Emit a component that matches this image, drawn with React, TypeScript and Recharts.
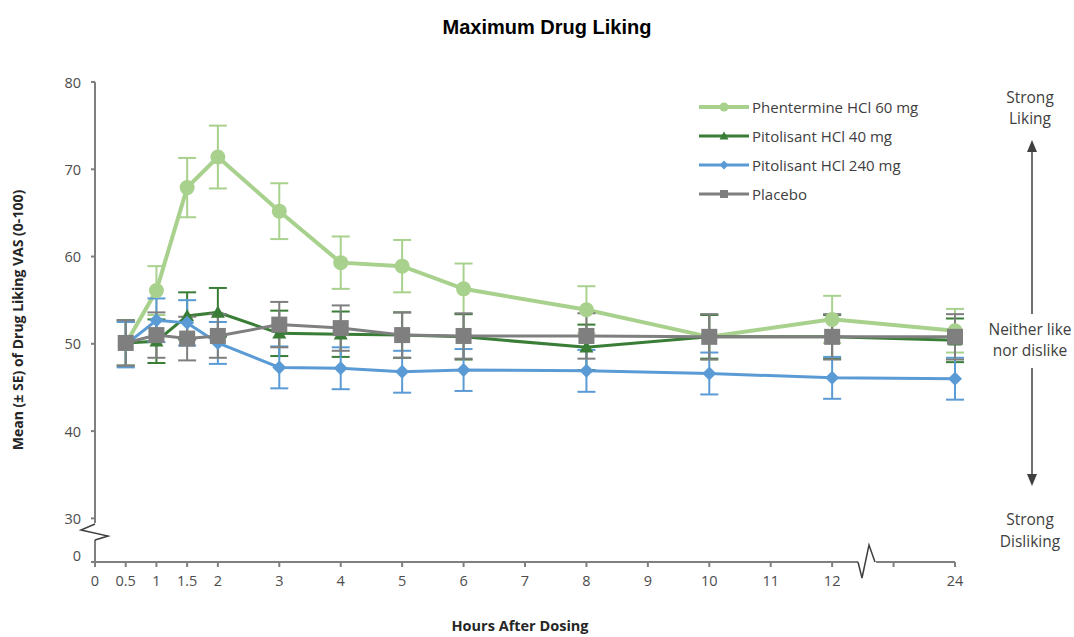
import React from "react";
import { LineChart, Line, XAxis, YAxis, ErrorBar } from "recharts";

// hours after dosing; 24 h sits past the axis break
const hours = [0.5, 1, 1.5, 2, 3, 4, 5, 6, 8, 10, 12, 24];

const phentermine = [50.0, 56.1, 67.9, 71.4, 65.2, 59.3, 58.9, 56.3, 53.9, 50.8, 52.8, 51.5];
const phentermineSE = [2.5, 2.8, 3.4, 3.6, 3.2, 3.0, 3.0, 2.9, 2.7, 2.6, 2.7, 2.5];
const pit40 = [50.1, 50.3, 53.2, 53.6, 51.2, 51.1, 51.0, 50.8, 49.6, 50.8, 50.8, 50.4];
const pit40SE = [2.6, 2.5, 2.7, 2.8, 2.6, 2.6, 2.6, 2.6, 2.6, 2.5, 2.5, 2.5];
const pit240 = [49.9, 52.7, 52.4, 50.1, 47.3, 47.2, 46.8, 47.0, 46.9, 46.6, 46.1, 46.0];
const pit240SE = [2.6, 2.5, 2.6, 2.4, 2.4, 2.4, 2.4, 2.4, 2.4, 2.4, 2.4, 2.4];
const placebo = [50.1, 51.0, 50.6, 50.9, 52.2, 51.8, 51.0, 50.9, 50.9, 50.8, 50.8, 50.8];
const placeboSE = [2.6, 2.6, 2.5, 2.5, 2.6, 2.6, 2.6, 2.6, 2.6, 2.6, 2.6, 2.6];

const xTicks = [0, 0.5, 1, 1.5, 2, 3, 4, 5, 6, 7, 8, 9, 10, 11, 12, 13, 14];
const xTickLabels = ["0", "0.5", "1", "1.5", "2", "3", "4", "5", "6", "7", "8", "9", "10", "11", "12", "", "24"];
const yTicks = [25, 30, 40, 50, 60, 70, 80];
const yTickLabels = ["0", "30", "40", "50", "60", "70", "80"];

const series = [
  { key: "phentermine", name: "Phentermine HCl 60 mg", color: "#A9D18E", width: 4, shape: "circle" },
  { key: "pit40", name: "Pitolisant HCl 40 mg", color: "#3A7D36", width: 3, shape: "triangle" },
  { key: "pit240", name: "Pitolisant HCl 240 mg", color: "#5B9BD5", width: 3, shape: "diamond" },
  { key: "placebo", name: "Placebo", color: "#7F7F7F", width: 3, shape: "square" },
];

const data = hours.map((h, i) => ({
  pos: h > 12 ? 14 : h,
  phentermine: phentermine[i],
  phentermineSE: phentermineSE[i],
  pit40: pit40[i],
  pit40SE: pit40SE[i],
  pit240: pit240[i],
  pit240SE: pit240SE[i],
  placebo: placebo[i],
  placeboSE: placeboSE[i],
}));

const FONT = "'Open Sans', 'Liberation Sans', sans-serif";

function marker(shape: string, color: string, cx: number, cy: number, s: number, key?: any) {
  switch (shape) {
    case "circle":
      return <circle key={key} cx={cx} cy={cy} r={s} fill={color} />;
    case "triangle":
      return (
        <polygon
          key={key}
          points={`${cx},${cy - s} ${cx - s},${cy + s * 0.75} ${cx + s},${cy + s * 0.75}`}
          fill={color}
        />
      );
    case "diamond":
      return (
        <polygon
          key={key}
          points={`${cx},${cy - s} ${cx + s},${cy} ${cx},${cy + s} ${cx - s},${cy}`}
          fill={color}
        />
      );
    default:
      return <rect key={key} x={cx - s} y={cy - s} width={s * 2} height={s * 2} fill={color} />;
  }
}

function makeDot(shape: string, color: string) {
  const size = shape === "circle" ? 7.5 : shape === "square" ? 8 : 7;
  return (p: any) => {
    if (p.cx == null || p.cy == null) return <g key={p.index} />;
    return marker(shape, color, p.cx, p.cy, size, p.index);
  };
}

function YTick(props: any) {
  const { x, y, payload } = props;
  const i = yTicks.indexOf(payload.value);
  return (
    <text
      x={x}
      y={payload.value === 25 ? y - 7 : y}
      textAnchor="end"
      dominantBaseline="central"
      fill="#4D4D4D"
      fontSize={14.5}
      fontFamily={FONT}
    >
      {yTickLabels[i]}
    </text>
  );
}

export default function App() {
  return (
    <div style={{ position: "absolute", left: 0, top: 0, width: 1074, height: 637, background: "#fff" }}>
      <LineChart width={1074} height={637} data={data} margin={{ top: 82, right: 119, left: 45, bottom: 35 }}>
        <XAxis
          dataKey="pos"
          type="number"
          domain={[0, 14]}
          ticks={xTicks}
          interval={0}
          tickFormatter={(v: number) => xTickLabels[xTicks.indexOf(v)]}
          height={40}
          tickSize={5}
          tickMargin={9}
          stroke="#7F7F7F"
          strokeWidth={2}
          tick={{ fill: "#4D4D4D", fontSize: 14.5, fontFamily: FONT }}
        />
        <YAxis
          type="number"
          domain={[25, 80]}
          ticks={yTicks}
          interval={0}
          width={50}
          tickSize={4}
          tickMargin={10}
          stroke="#7F7F7F"
          strokeWidth={2}
          tick={<YTick />}
        />
        {series.map((s) => (
          <Line
            key={s.key}
            dataKey={s.key}
            stroke={s.color}
            strokeWidth={s.width}
            dot={makeDot(s.shape, s.color)}
            activeDot={false}
            isAnimationActive={false}
          >
            <ErrorBar dataKey={s.key + "SE"} direction="y" width={9} stroke={s.color} strokeWidth={2} />
          </Line>
        ))}
      </LineChart>

      <svg
        width={1074}
        height={637}
        style={{ position: "absolute", left: 0, top: 0, pointerEvents: "none" }}
      >
        <text x={547} y={34} textAnchor="middle" fontFamily="'Liberation Sans', Arial, sans-serif" fontWeight="bold" fontSize={20} fill="#000">
          Maximum Drug Liking
        </text>
        <text
          transform="translate(23,320) rotate(-90)"
          textAnchor="middle"
          fontFamily={FONT}
          fontWeight="bold"
          fontSize={14}
          fill="#262626"
        >
          Mean (± SE) of Drug Liking VAS (0-100)
        </text>
        <text x={520} y={631} textAnchor="middle" fontFamily={FONT} fontWeight="bold" fontSize={14.5} fill="#262626">
          Hours After Dosing
        </text>

        {/* y axis break */}
        <rect x={90} y={523} width={7} height={17} fill="#fff" />
        <path d="M95,524 L81,530 L108,536 L95,540" fill="none" stroke="#404040" strokeWidth={1.5} />
        {/* x axis break */}
        <rect x={858} y={559} width={18} height={6} fill="#fff" />
        <path d="M858,562 L862,578 L869,545 L875,562" fill="none" stroke="#404040" strokeWidth={1.5} />

        {/* legend */}
        {series.map((s, i) => {
          const y = 107 + i * 29;
          return (
            <g key={s.key}>
              <line x1={699} x2={749} y1={y} y2={y} stroke={s.color} strokeWidth={s.width} />
              {marker(s.shape, s.color, 724, y, s.shape === "square" ? 4 : 4.5)}
              <text x={752} y={y} dominantBaseline="central" fontFamily={FONT} fontSize={15} fill="#404040">
                {s.name}
              </text>
            </g>
          );
        })}

        {/* right-side scale annotations */}
        <g fontFamily={FONT} fontSize={15.5} fill="#404040" textAnchor="middle">
          <text x={1030} y={97} dominantBaseline="central">Strong</text>
          <text x={1030} y={118} dominantBaseline="central">Liking</text>
          <text x={1030} y={329} dominantBaseline="central">Neither like</text>
          <text x={1030} y={350} dominantBaseline="central">nor dislike</text>
          <text x={1030} y={519} dominantBaseline="central">Strong</text>
          <text x={1030} y={541} dominantBaseline="central">Disliking</text>
        </g>
        <line x1={1032} x2={1032} y1={150} y2={314} stroke="#404040" strokeWidth={1.5} />
        <polygon points="1032,140 1027,152 1037,152" fill="#404040" />
        <line x1={1032} x2={1032} y1={368} y2={476} stroke="#404040" strokeWidth={1.5} />
        <polygon points="1032,486 1027,474 1037,474" fill="#404040" />
      </svg>
    </div>
  );
}
